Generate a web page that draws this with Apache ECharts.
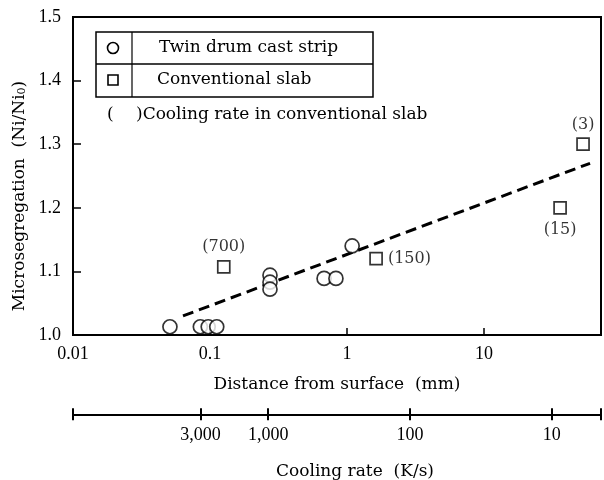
<!DOCTYPE html>
<html>
<head>
<meta charset="utf-8">
<script src="https://cdn.jsdelivr.net/npm/echarts@6/dist/echarts.min.js"></script>
<style>
  html, body { margin: 0; padding: 0; background: #fff; }
  #chart { width: 604px; height: 480px; }
</style>
</head>
<body>
<div id="chart"></div>
<script>
// Twin drum cast strip: distance from surface (mm) and Ni ratio
const stripDist  = [0.051, 0.085, 0.097, 0.112, 0.274, 0.274, 0.274, 0.68, 0.83, 1.09];
const stripRatio = [1.013, 1.013, 1.013, 1.013, 1.094, 1.083, 1.072, 1.089, 1.089, 1.14];

// Conventional slab: distance, Ni ratio and cooling rate (K/s)
const slabDist    = [0.126, 1.63, 35.9, 52.8];
const slabRatio   = [1.107, 1.12, 1.20, 1.30];
const slabCooling = [700, 150, 15, 3];

// Fitted trend (dashed)
const trendDist  = [0.0635, 59.4];
const trendRatio = [1.03, 1.27];

// Axis ticks
const distTicks    = [0.01, 0.1, 1, 10];
const ratioTicks   = [1.0, 1.1, 1.2, 1.3, 1.4, 1.5];
const coolingTicks = [3000, 1000, 100, 10];
const coolingRange = [4.5, 23800];

const SERIF = 'DejaVu Serif';
const NUM = 'Liberation Serif';

const chart = echarts.init(document.getElementById('chart'), null, { renderer: 'canvas' });

const labelSide = ['top', 'right', 'bottom', 'top'];
const coolingTickMarks = [coolingRange[1]].concat(coolingTicks, [coolingRange[0]]);

const option = {
  backgroundColor: '#fff',
  animation: false,
  grid: [
    { left: 73, right: 3, top: 17, bottom: 145, show: true, borderColor: '#000', borderWidth: 2 },
    { left: 73, right: 3, top: 414, height: 1 }
  ],
  xAxis: [
    {
      gridIndex: 0, type: 'log', logBase: 10, min: 0.01, max: 71.4, position: 'bottom',
      axisLine: { lineStyle: { color: '#000', width: 2 } },
      axisTick: { inside: true, length: 7, customValues: distTicks, lineStyle: { color: '#000', width: 1.5 } },
      axisLabel: {
        customValues: distTicks, color: '#000', fontFamily: NUM, fontSize: 18, margin: 10,
        formatter: v => String(+(+v).toPrecision(1))
      },
      splitLine: { show: false },
      name: 'Distance from surface  (mm)', nameLocation: 'middle', nameGap: 41,
      nameTextStyle: { color: '#000', fontFamily: SERIF, fontSize: 17 }
    },
    {
      gridIndex: 1, type: 'log', logBase: 10, inverse: true, position: 'bottom',
      min: coolingRange[0], max: coolingRange[1],
      axisLine: { lineStyle: { color: '#000', width: 2 } },
      axisTick: { inside: true, length: 6, customValues: coolingTickMarks, lineStyle: { color: '#000', width: 2 } },
      axisLabel: { show: false },
      splitLine: { show: false }
    },
    {
      gridIndex: 1, type: 'log', logBase: 10, inverse: true, position: 'bottom',
      min: coolingRange[0], max: coolingRange[1],
      axisLine: { lineStyle: { color: '#000', width: 2 } },
      axisTick: { inside: false, length: 6, customValues: coolingTickMarks, lineStyle: { color: '#000', width: 2 } },
      axisLabel: {
        customValues: coolingTicks, color: '#000', fontFamily: NUM, fontSize: 18, margin: 12,
        formatter: v => Math.round(v).toLocaleString('en-US')
      },
      splitLine: { show: false },
      name: 'Cooling rate  (K/s)', nameLocation: 'middle', nameGap: 49,
      nameTextStyle: { color: '#000', fontFamily: SERIF, fontSize: 17, padding: [0, 0, 0, 36] }
    }
  ],
  yAxis: [
    {
      gridIndex: 0, type: 'value', min: 1.0, max: 1.5, interval: 0.1,
      axisLine: { lineStyle: { color: '#000', width: 2 } },
      axisTick: { inside: true, length: 8, lineStyle: { color: '#000', width: 1.5 } },
      axisLabel: { color: '#000', fontFamily: NUM, fontSize: 18, margin: 12, formatter: v => v.toFixed(1) },
      splitLine: { show: false },
      name: 'Microsegregation  (Ni/Ni{s|0})', nameLocation: 'middle', nameGap: 39,
      nameTextStyle: {
        color: '#000', fontFamily: SERIF, fontSize: 17, padding: [0, 40, 0, 0],
        rich: { s: { fontFamily: SERIF, fontSize: 11, color: '#000', verticalAlign: 'bottom', padding: [6, 0, 0, 0] } }
      }
    },
    { gridIndex: 1, type: 'value', show: false }
  ],
  series: [
    {
      name: 'Trend', type: 'line', xAxisIndex: 0, yAxisIndex: 0,
      data: trendDist.map((d, i) => [d, trendRatio[i]]),
      showSymbol: false, symbol: 'none',
      lineStyle: { color: '#000', width: 3, type: [11, 6] },
      z: 2
    },
    {
      name: 'Twin drum cast strip', type: 'scatter', xAxisIndex: 0, yAxisIndex: 0,
      data: stripDist.map((d, i) => [d, stripRatio[i]]),
      symbol: 'circle', symbolSize: 14,
      itemStyle: { color: '#fff', borderColor: '#000', borderWidth: 1.7 },
      z: 3
    },
    {
      name: 'Conventional slab', type: 'scatter', xAxisIndex: 0, yAxisIndex: 0,
      data: slabDist.map((d, i) => ({
        value: [d, slabRatio[i]],
        label: {
          show: true, position: labelSide[i], distance: labelSide[i] === 'bottom' ? 7 : 5,
          color: '#000', fontFamily: SERIF, fontSize: 16,
          formatter: '(' + slabCooling[i] + ')'
        }
      })),
      symbol: 'rect', symbolSize: 12,
      itemStyle: { color: '#fff', borderColor: '#000', borderWidth: 1.7 },
      z: 3
    }
  ],
  graphic: [
    { type: 'rect', x: 0, y: 0, shape: { x: 96, y: 32, width: 277, height: 65 }, style: { fill: '#fff', stroke: '#000', lineWidth: 1.5 }, silent: true },
    { type: 'line', x: 0, y: 0, shape: { x1: 96, y1: 64, x2: 373, y2: 64 }, style: { stroke: '#000', lineWidth: 1.5 }, silent: true },
    { type: 'line', x: 0, y: 0, shape: { x1: 132, y1: 32, x2: 132, y2: 97 }, style: { stroke: '#000', lineWidth: 1.2 }, silent: true },
    { type: 'circle', x: 0, y: 0, shape: { cx: 113, cy: 48, r: 5.5 }, style: { fill: '#fff', stroke: '#000', lineWidth: 1.6 }, silent: true },
    { type: 'rect', x: 0, y: 0, shape: { x: 108, y: 75, width: 10, height: 10 }, style: { fill: '#fff', stroke: '#000', lineWidth: 1.6 }, silent: true },
    { type: 'text', x: 159, y: 48, style: { text: 'Twin drum cast strip', fill: '#000', font: '17px "DejaVu Serif"', textVerticalAlign: 'middle' }, silent: true },
    { type: 'text', x: 157, y: 80, style: { text: 'Conventional slab', fill: '#000', font: '17px "DejaVu Serif"', textVerticalAlign: 'middle' }, silent: true },
    { type: 'text', x: 107, y: 115, style: { text: '(', fill: '#000', font: '17px "DejaVu Serif"', textVerticalAlign: 'middle' }, silent: true },
    { type: 'text', x: 136, y: 115, style: { text: ')Cooling rate in conventional slab', fill: '#000', font: '17px "DejaVu Serif"', textVerticalAlign: 'middle' }, silent: true }
  ]
};

chart.setOption(option);
</script>
</body>
</html>
